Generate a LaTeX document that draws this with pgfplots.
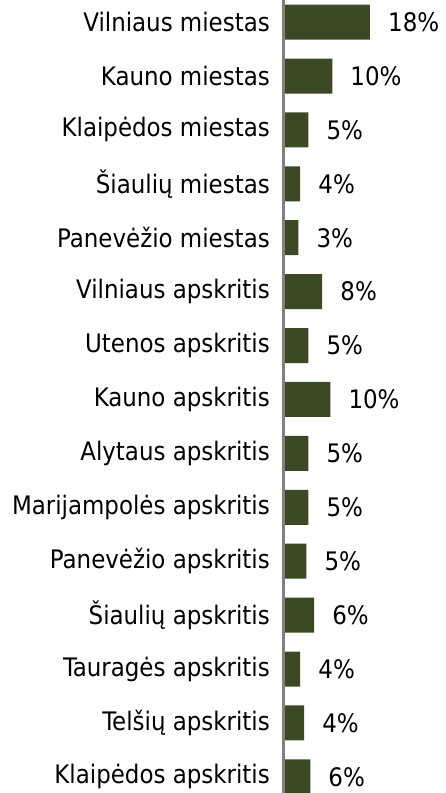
\documentclass[border=0pt]{standalone}
\usepackage{fontspec}
\setmainfont{DejaVu Sans Condensed}
\usepackage{pgfplots}
\pgfplotsset{compat=1.18}
\usepackage{pgfplotstable}
\definecolor{barc}{HTML}{3B4A24}
\definecolor{axc}{HTML}{808080}
\pgfplotstableread{
y v m
0 18.0 18
1 10.1 10
2 5.1 5
3 3.4 4
4 3.0 3
5 8.0 8
6 5.1 5
7 9.7 10
8 5.1 5
9 5.1 5
10 4.7 5
11 6.3 6
12 3.4 4
13 4.2 4
14 5.5 6
}\data
\begin{document}
\begin{tikzpicture}
\begin{axis}[
  at={(284pt,0pt)}, anchor=south west,
  scale only axis, width=161pt, height=793pt,
  xmin=0, xmax=33.7, ymin=-0.41, ymax=14.30, y dir=reverse,
  axis x line=none, axis y line*=left,
  y axis line style={draw=axc, line width=3pt, -},
  axis on top,
  ytick={0,...,14},
  yticklabels={Vilniaus miestas, Kauno miestas, Klaipėdos miestas, Šiaulių miestas, Panevėžio miestas, Vilniaus apskritis, Utenos apskritis, Kauno apskritis, Alytaus apskritis, Marijampolės apskritis, Panevėžio apskritis, Šiaulių apskritis, Tauragės apskritis, Telšių apskritis, Klaipėdos apskritis},
  major tick length=0pt,
  yticklabel style={anchor=east, inner sep=0pt, xshift=-14pt, font=\fontsize{25.5}{30}\selectfont},
  xbar, bar width=35pt, bar shift=0pt,
  point meta=explicit symbolic,
  nodes near coords={\pgfplotspointmeta\%},
  nodes near coords style={anchor=west, inner sep=0pt, xshift=18pt, font=\fontsize{25.5}{30}\selectfont, text=black},
]
\addplot[fill=barc, draw=none] table[x=v, y=y, meta=m] {\data};
\end{axis}
\pgfresetboundingbox
\path[use as bounding box] (0,0) rectangle (445pt,793pt);
\end{tikzpicture}
\end{document}
